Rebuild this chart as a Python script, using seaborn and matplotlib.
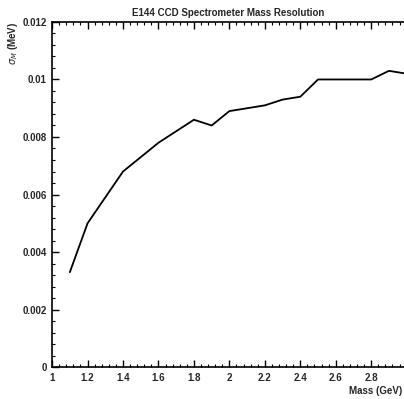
import numpy as np
import pandas as pd
import matplotlib
matplotlib.use("Agg")
import matplotlib.pyplot as plt
from matplotlib.ticker import MultipleLocator
import seaborn as sns

mass_gev = [1.1, 1.2, 1.3, 1.4, 1.5, 1.6, 1.7, 1.8, 1.9, 2.0,
            2.1, 2.2, 2.3, 2.4, 2.5, 2.6, 2.7, 2.8, 2.9, 3.0]
sigma_mev = [0.0033, 0.0050, 0.0059, 0.0068, 0.0073, 0.0078, 0.0082, 0.0086, 0.0084, 0.0089,
             0.0090, 0.0091, 0.0093, 0.0094, 0.0100, 0.0100, 0.0100, 0.0100, 0.0103, 0.0102]

df = pd.DataFrame({"mass": mass_gev, "sigma": sigma_mev})

sns.set_theme(style="ticks")
plt.rcParams["font.family"] = ["Liberation Sans", "DejaVu Sans"]

fig = plt.figure(figsize=(4.04, 3.99), dpi=100)
ax = fig.add_axes([0.129, 0.080, 0.871, 0.865])

sns.lineplot(data=df, x="mass", y="sigma", color="black", linewidth=1.3, ax=ax)

ax.set_xlim(1, 2.985)
ax.set_ylim(0, 0.012)
ax.xaxis.set_minor_locator(MultipleLocator(0.04))
ax.yaxis.set_minor_locator(MultipleLocator(0.0004))
ax.set_xticks(np.arange(1, 2.9, 0.2))
ax.set_xticklabels(["1", "1.2", "1.4", "1.6", "1.8", "2", "2.2", "2.4", "2.6", "2.8"])
ax.set_yticks(np.arange(0, 0.0121, 0.002))
ax.set_yticklabels(["0", "0.002", "0.004", "0.006", "0.008", "0.01", "0.012"])

ax.tick_params(which="both", direction="in", top=True, right=False, color="black",
               labelsize=7, pad=4)
ax.tick_params(which="major", length=5, width=1)
ax.tick_params(which="minor", length=2.5, width=0.8)
for lbl in ax.get_xticklabels() + ax.get_yticklabels():
    lbl.set_fontweight("bold")

for side in ["left", "bottom", "top"]:
    ax.spines[side].set_linewidth(1.2)
    ax.spines[side].set_color("black")
ax.spines["right"].set_visible(False)

ax.set_title("E144 CCD Spectrometer Mass Resolution", fontsize=7, fontweight="bold", pad=4)
ax.set_xlabel("Mass (GeV)", fontsize=7, fontweight="bold", ha="right")
ax.xaxis.set_label_coords(0.995, -0.055)
ax.set_ylabel(r"$\sigma_M$ (MeV)", fontsize=7, fontweight="bold", loc="top")
ax.yaxis.set_label_coords(-0.09, 1.0)

fig.savefig("out.png", dpi=100)
